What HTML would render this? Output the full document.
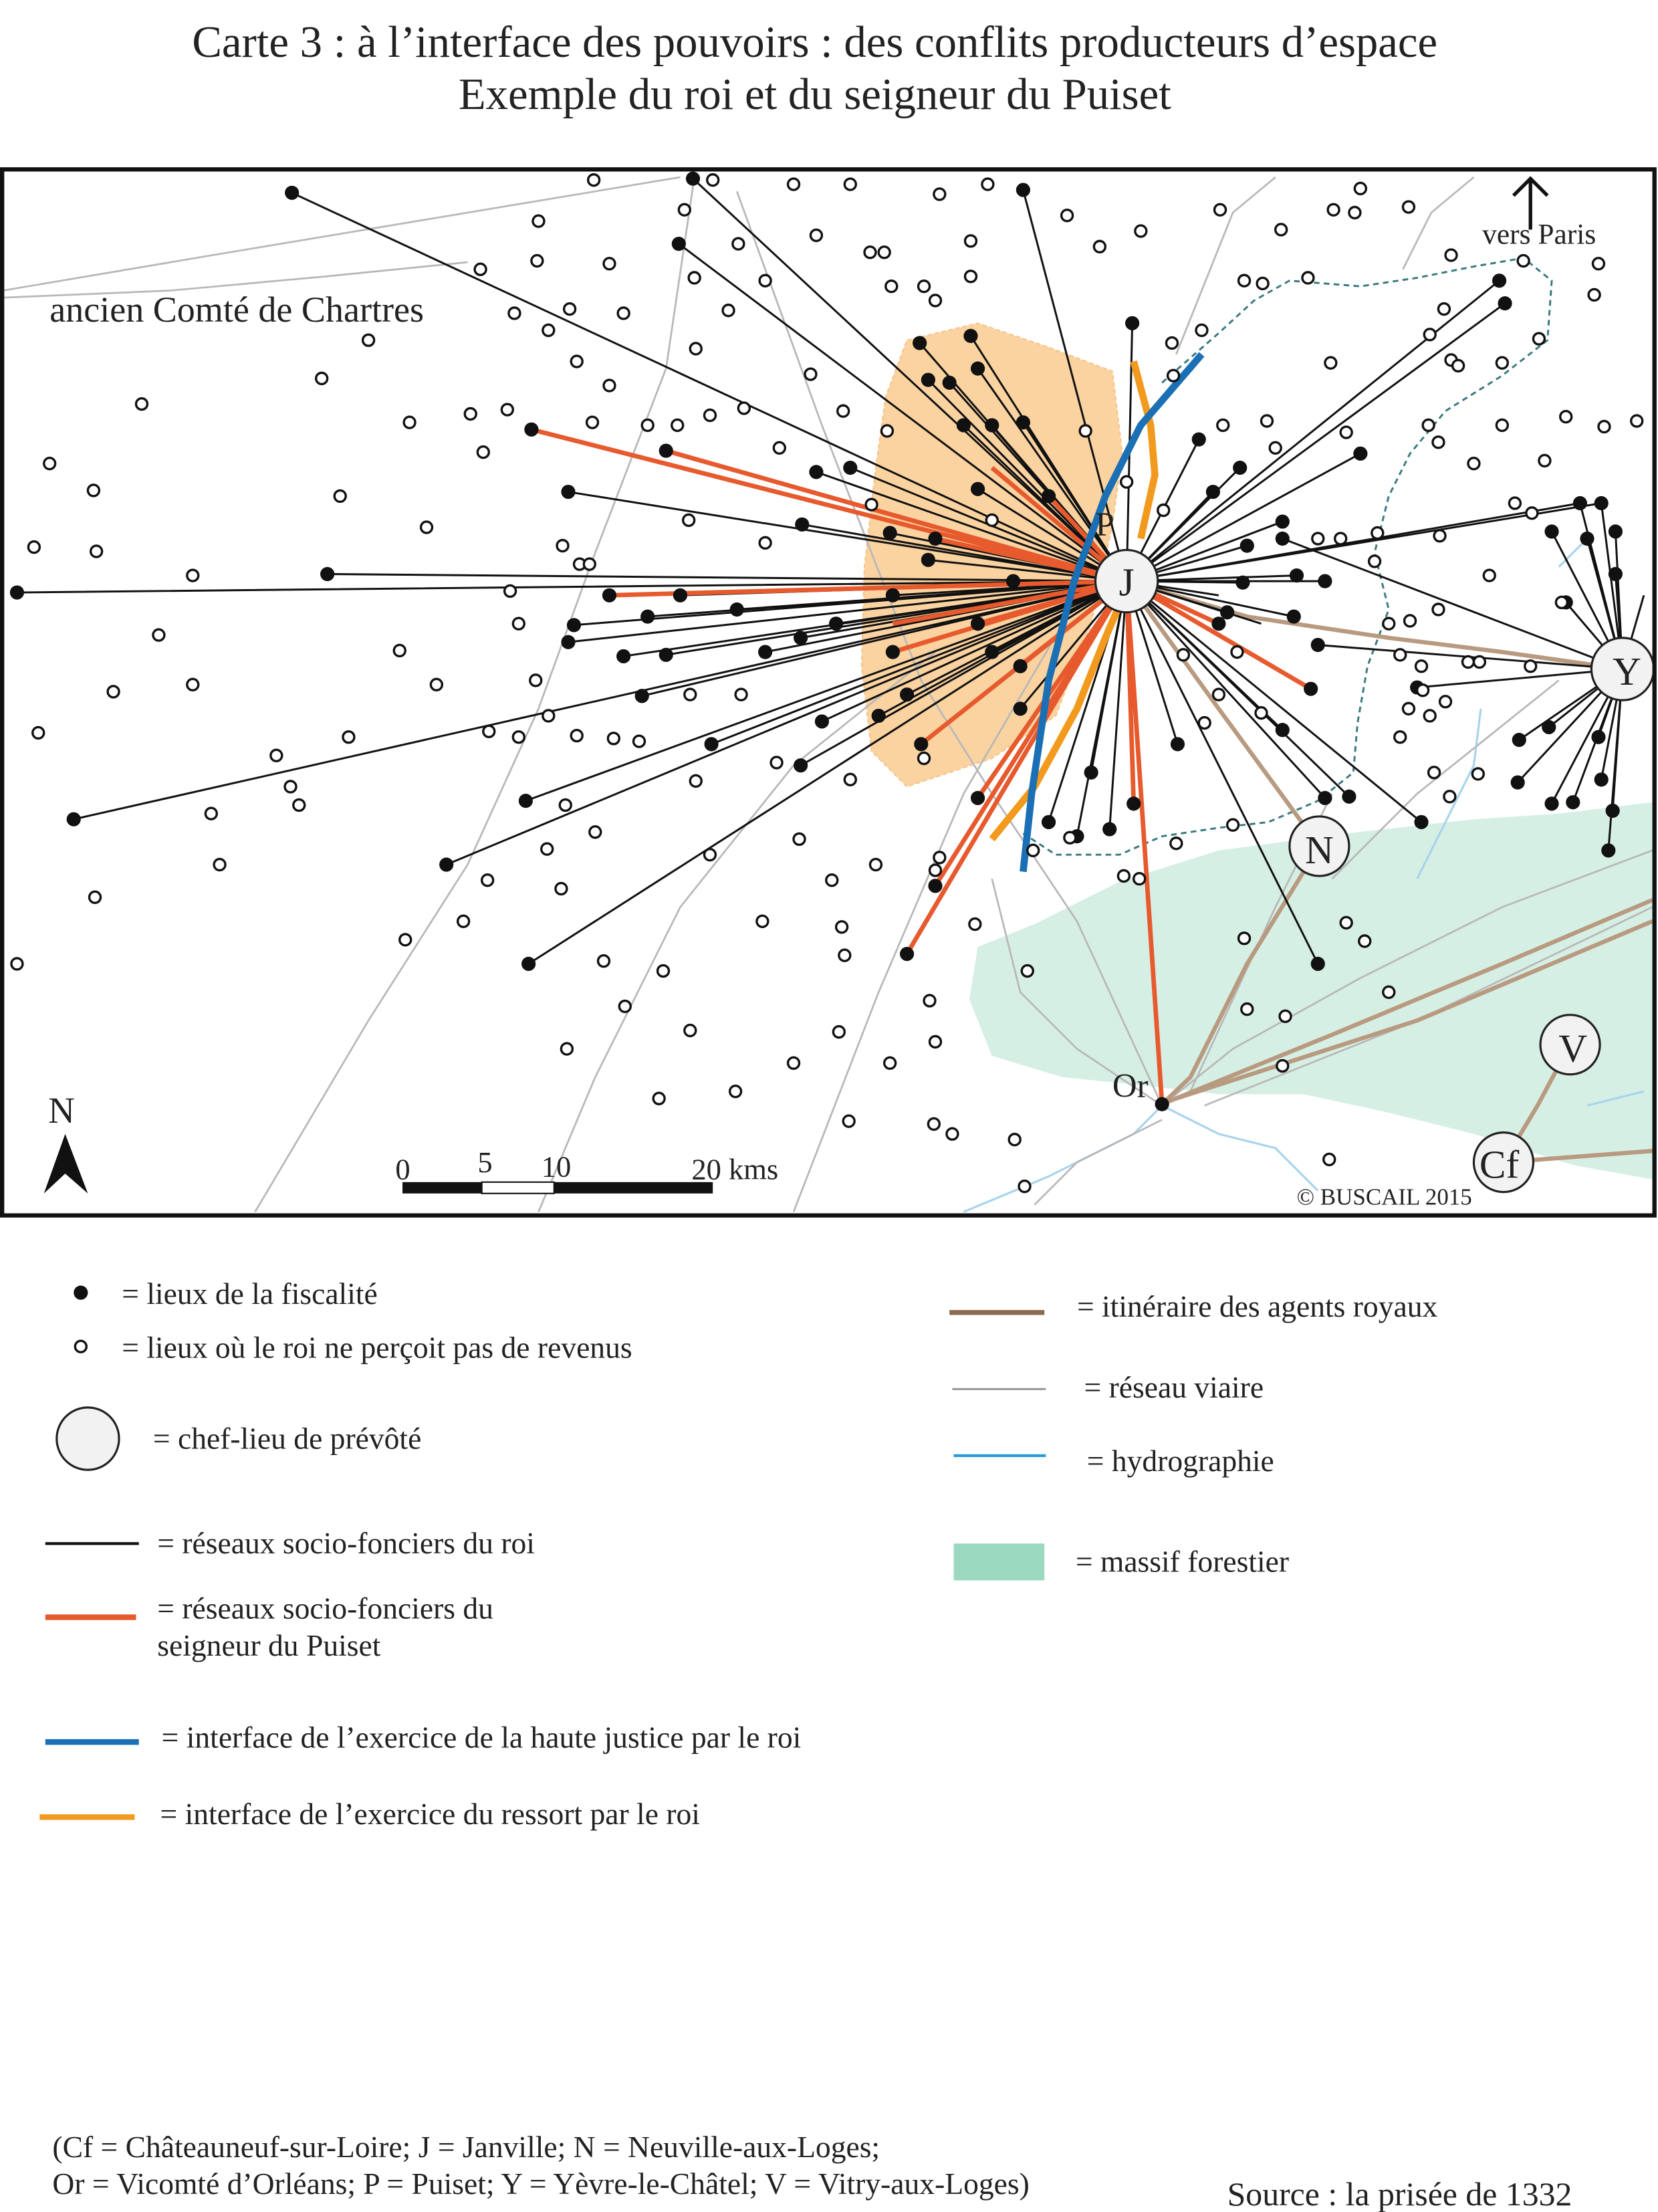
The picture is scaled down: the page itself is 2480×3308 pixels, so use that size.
<!DOCTYPE html>
<html><head><meta charset="utf-8"><style>
html,body{margin:0;padding:0;background:#fff}
svg{display:block}
text{font-family:"Liberation Serif",serif;fill:#222}
</style></head><body>
<svg width="2480" height="3308" viewBox="0 0 1170 1560.6" xmlns="http://www.w3.org/2000/svg">
<rect width="1170" height="1561" fill="#fff"/>
<text x="575" y="40" font-size="31.5" text-anchor="middle">Carte 3 : à l’interface des pouvoirs : des conflits producteurs d’espace</text>
<text x="575" y="77" font-size="31.5" text-anchor="middle">Exemple du roi et du seigneur du Puiset</text>

<defs><clipPath id="mc"><rect x="2" y="120" width="1164" height="736"/></clipPath></defs>
<g clip-path="url(#mc)">
<path d="M690,668 L730,652 L790,622 L860,600 L950,588 L1040,578 L1100,574 L1166,566 L1166,832 L1110,822 L1040,800 L980,785 L920,772 L860,772 L800,765 L750,760 L700,745 L684,705 Z" fill="#d6efe4"/>
<path d="M680,855 L740,830 L800,800 L820,780 M820,780 L860,800 L900,810 L930,840 M1000,620 L1020,580 L1040,540 L1045,500 M1100,400 L1120,380 M1120,780 L1160,770" stroke="#a8d4ec" stroke-width="1.5" fill="none"/>
<path d="M640,240 L690,228 L740,245 L785,262 L792,320 L785,370 L770,440 L745,505 L700,535 L640,555 L615,530 L608,470 L610,400 L618,330 L625,280 Z" fill="#fbd3a0" stroke="#f6c48a" stroke-width="1" stroke-dasharray="3,2"/>
<g stroke="#b8b8b8" stroke-width="1.3" fill="none">
<path d="M2,205 L150,180 L330,150 L480,125"/>
<path d="M180,855 L260,720 L330,610 L380,500 L420,390 L470,260 L490,125"/>
<path d="M520,135 L580,300 L650,480 L700,560 L760,650 L820,780"/>
<path d="M560,855 L620,700 L680,560 L750,440"/>
<path d="M2,210 L120,205 L230,195 L330,185"/>
<path d="M380,855 L420,760 L480,640 L560,540 L660,460"/>
<path d="M820,780 L870,740 L960,690 L1060,640 L1166,600"/>
<path d="M820,780 L760,740 L720,700 L700,620"/>
<path d="M840,770 L900,640 L940,560"/>
<path d="M850,780 L1000,720 L1166,640"/>
<path d="M900,125 L870,150 L830,250"/>
<path d="M990,190 L1010,150 L1040,125"/>
<path d="M940,620 L1000,560 L1050,520 L1100,480"/>
<path d="M730,850 L760,820 L820,790"/>
</g>
<path d="M820,270 L860,235 L885,212 L910,198 L960,202 L1000,196 L1040,188 L1075,182 L1095,198 L1092,240 L1060,265 L1020,290 L995,320 L980,350 L970,390 L980,430 L965,470 L958,510 L955,545 L930,565 L895,580 L860,584 L820,590 L790,603 L745,603 L722,588" stroke="#3a7a80" stroke-width="1.4" stroke-dasharray="4,3" fill="none"/>
<g stroke="#b89a80" stroke-width="3" fill="none">
<path d="M795,410 L880,435 L980,450 L1060,460 L1145,472"/>
<path d="M795,410 L860,500 L931,597"/>
<path d="M931,597 L880,680 L840,760 L820,779"/>
<path d="M820,779 L940,730 L1060,680 L1166,635"/>
<path d="M830,775 L1000,720 L1166,650"/>
<path d="M1108,737 L1085,780 L1061,820"/>
<path d="M1061,820 L1166,812"/>
</g>
<g stroke="#111" stroke-width="1.4">
<path d="M795,410L206,136M795,410L489,126M795,410L479,172M795,410L722,134M795,410L799,228M795,410L12,418M795,410L231,405M795,410L401,347M795,410L52,578M795,410L315,610M795,410L373,680M795,410L371,565M795,410L405,441M795,410L401,453M795,410L440,463M795,410L457,435M795,410L470,462M795,410L453,491M795,410L502,525M795,410L565,450M795,410L566,370M795,410L576,333M795,410L628,376M795,410L600,330M795,410L649,242M795,410L655,268M795,410L670,270M795,410L685,237M795,410L690,260M795,410L700,300M795,410L680,300M795,410L690,345M795,410L722,298M795,410L655,395M795,410L630,420M795,410L620,505M795,410L640,490M795,410L740,580M795,410L760,590M795,410L770,545M795,410L783,585M795,410L831,525M795,410L846,310M795,410L856,347M795,410L875,330M795,410L877,411M795,410L880,385M795,410L905,368M795,410L915,406M795,410L935,410M795,410L913,435M795,410L905,515M795,410L930,680M795,410L952,562M795,410L935,563M795,410L1003,580M795,410L1058,198M795,410L1062,214M795,410L960,320M795,410L1115,355M795,410L1130,355M795,410L580,509M795,410L565,540M795,410L715,410M795,410L480,420M795,410L520,430M795,410L590,440M795,410L540,460M795,410L700,460M795,410L720,500M795,410L860,420M795,410L866,432M795,410L890,440"/>
<path d="M1145,472L1115,355M1145,472L1130,355M1145,472L1095,375M1145,472L1120,380M1145,472L1140,375M1145,472L1140,405M1145,472L1105,425M1145,472L1072,522M1145,472L1093,513M1145,472L1071,552M1145,472L1095,567M1145,472L1110,566M1145,472L1130,550M1145,472L1138,572M1145,472L1135,600M1145,472L1128,520M1145,472L905,380M1145,472L1000,485M1145,472L1160,420M1145,472L930,455"/>
</g>
<g stroke="#e65a2e" stroke-width="3.2">
<path d="M795,410L375,303M795,410L640,673M795,410L660,625M795,410L690,563M795,410L800,567M795,410L820,779M795,410L925,486M795,410L470,318M795,410L650,525M795,410L630,440M795,410L660,380M795,410L700,330M795,410L740,350M795,410L430,420M795,410L860,440M795,410L720,470M795,410L630,460M795,410L690,440"/>
</g>
<path d="M700,592 L730,555 L760,500 L780,450 L793,420" stroke="#f29a1d" stroke-width="5" fill="none"/>
<path d="M800,255 L812,300 L815,335 L805,380" stroke="#f29a1d" stroke-width="5" fill="none"/>
<path d="M722,615 L728,560 L740,480 L758,410 L780,350 L805,300 L848,250" stroke="#1a6fb5" stroke-width="5" fill="none"/>
<g fill="#111">
<circle cx="206" cy="136" r="5"/><circle cx="489" cy="126" r="5"/><circle cx="479" cy="172" r="5"/><circle cx="722" cy="134" r="5"/><circle cx="799" cy="228" r="5"/><circle cx="12" cy="418" r="5"/><circle cx="231" cy="405" r="5"/><circle cx="401" cy="347" r="5"/><circle cx="375" cy="303" r="5"/><circle cx="52" cy="578" r="5"/><circle cx="315" cy="610" r="5"/><circle cx="373" cy="680" r="5"/><circle cx="371" cy="565" r="5"/><circle cx="405" cy="441" r="5"/><circle cx="401" cy="453" r="5"/><circle cx="440" cy="463" r="5"/><circle cx="457" cy="435" r="5"/><circle cx="470" cy="462" r="5"/><circle cx="453" cy="491" r="5"/><circle cx="502" cy="525" r="5"/><circle cx="565" cy="450" r="5"/><circle cx="566" cy="370" r="5"/><circle cx="576" cy="333" r="5"/><circle cx="628" cy="376" r="5"/><circle cx="600" cy="330" r="5"/><circle cx="649" cy="242" r="5"/><circle cx="655" cy="268" r="5"/><circle cx="670" cy="270" r="5"/><circle cx="685" cy="237" r="5"/><circle cx="690" cy="260" r="5"/><circle cx="700" cy="300" r="5"/><circle cx="680" cy="300" r="5"/><circle cx="690" cy="345" r="5"/><circle cx="722" cy="298" r="5"/><circle cx="655" cy="395" r="5"/><circle cx="630" cy="420" r="5"/><circle cx="620" cy="505" r="5"/><circle cx="640" cy="490" r="5"/><circle cx="650" cy="525" r="5"/><circle cx="640" cy="673" r="5"/><circle cx="660" cy="625" r="5"/><circle cx="690" cy="563" r="5"/><circle cx="740" cy="580" r="5"/><circle cx="760" cy="590" r="5"/><circle cx="770" cy="545" r="5"/><circle cx="783" cy="585" r="5"/><circle cx="800" cy="567" r="5"/><circle cx="820" cy="779" r="5"/><circle cx="831" cy="525" r="5"/><circle cx="846" cy="310" r="5"/><circle cx="856" cy="347" r="5"/><circle cx="875" cy="330" r="5"/><circle cx="877" cy="411" r="5"/><circle cx="880" cy="385" r="5"/><circle cx="905" cy="368" r="5"/><circle cx="915" cy="406" r="5"/><circle cx="935" cy="410" r="5"/><circle cx="913" cy="435" r="5"/><circle cx="905" cy="515" r="5"/><circle cx="925" cy="486" r="5"/><circle cx="930" cy="680" r="5"/><circle cx="952" cy="562" r="5"/><circle cx="935" cy="563" r="5"/><circle cx="1003" cy="580" r="5"/><circle cx="1058" cy="198" r="5"/><circle cx="1062" cy="214" r="5"/><circle cx="960" cy="320" r="5"/><circle cx="1115" cy="355" r="5"/><circle cx="1130" cy="355" r="5"/><circle cx="1095" cy="375" r="5"/><circle cx="1120" cy="380" r="5"/><circle cx="1140" cy="375" r="5"/><circle cx="1140" cy="405" r="5"/><circle cx="1105" cy="425" r="5"/><circle cx="1072" cy="522" r="5"/><circle cx="1093" cy="513" r="5"/><circle cx="1071" cy="552" r="5"/><circle cx="1095" cy="567" r="5"/><circle cx="1110" cy="566" r="5"/><circle cx="1130" cy="550" r="5"/><circle cx="1138" cy="572" r="5"/><circle cx="1135" cy="600" r="5"/><circle cx="1128" cy="520" r="5"/><circle cx="580" cy="509" r="5"/><circle cx="565" cy="540" r="5"/><circle cx="715" cy="410" r="5"/><circle cx="470" cy="318" r="5"/><circle cx="480" cy="420" r="5"/><circle cx="520" cy="430" r="5"/><circle cx="590" cy="440" r="5"/><circle cx="540" cy="460" r="5"/><circle cx="700" cy="460" r="5"/><circle cx="720" cy="500" r="5"/><circle cx="860" cy="440" r="5"/><circle cx="866" cy="432" r="5"/><circle cx="905" cy="380" r="5"/><circle cx="1000" cy="485" r="5"/><circle cx="930" cy="455" r="5"/><circle cx="660" cy="380" r="5"/><circle cx="740" cy="350" r="5"/><circle cx="430" cy="420" r="5"/><circle cx="720" cy="470" r="5"/><circle cx="630" cy="460" r="5"/><circle cx="690" cy="440" r="5"/>
</g>
<g fill="#fff" stroke="#111" stroke-width="1.6">
<circle cx="419" cy="127" r="4"/><circle cx="503" cy="127" r="4"/><circle cx="560" cy="130" r="4"/><circle cx="600" cy="130" r="4"/><circle cx="663" cy="137" r="4"/><circle cx="697" cy="130" r="4"/><circle cx="483" cy="148" r="4"/><circle cx="380" cy="156" r="4"/><circle cx="379" cy="184" r="4"/><circle cx="339" cy="190" r="4"/><circle cx="430" cy="186" r="4"/><circle cx="402" cy="218" r="4"/><circle cx="363" cy="221" r="4"/><circle cx="387" cy="233" r="4"/><circle cx="440" cy="221" r="4"/><circle cx="490" cy="196" r="4"/><circle cx="514" cy="219" r="4"/><circle cx="521" cy="172" r="4"/><circle cx="540" cy="198" r="4"/><circle cx="576" cy="166" r="4"/><circle cx="614" cy="178" r="4"/><circle cx="624" cy="178" r="4"/><circle cx="629" cy="202" r="4"/><circle cx="652" cy="202" r="4"/><circle cx="660" cy="212" r="4"/><circle cx="685" cy="195" r="4"/><circle cx="685" cy="170" r="4"/><circle cx="753" cy="152" r="4"/><circle cx="776" cy="174" r="4"/><circle cx="805" cy="163" r="4"/><circle cx="861" cy="148" r="4"/><circle cx="904" cy="162" r="4"/><circle cx="960" cy="133" r="4"/><circle cx="941" cy="148" r="4"/><circle cx="956" cy="150" r="4"/><circle cx="994" cy="146" r="4"/><circle cx="878" cy="198" r="4"/><circle cx="923" cy="196" r="4"/><circle cx="891" cy="200" r="4"/><circle cx="827" cy="242" r="4"/><circle cx="848" cy="233" r="4"/><circle cx="828" cy="265" r="4"/><circle cx="939" cy="256" r="4"/><circle cx="1009" cy="236" r="4"/><circle cx="1024" cy="254" r="4"/><circle cx="1029" cy="258" r="4"/><circle cx="1060" cy="256" r="4"/><circle cx="1086" cy="239" r="4"/><circle cx="1125" cy="208" r="4"/><circle cx="1128" cy="186" r="4"/><circle cx="1075" cy="184" r="4"/><circle cx="1024" cy="180" r="4"/><circle cx="1019" cy="218" r="4"/><circle cx="491" cy="246" r="4"/><circle cx="430" cy="272" r="4"/><circle cx="407" cy="255" r="4"/><circle cx="572" cy="264" r="4"/><circle cx="525" cy="288" r="4"/><circle cx="501" cy="293" r="4"/><circle cx="478" cy="300" r="4"/><circle cx="457" cy="300" r="4"/><circle cx="418" cy="298" r="4"/><circle cx="358" cy="289" r="4"/><circle cx="332" cy="292" r="4"/><circle cx="289" cy="298" r="4"/><circle cx="341" cy="319" r="4"/><circle cx="227" cy="267" r="4"/><circle cx="260" cy="240" r="4"/><circle cx="100" cy="285" r="4"/><circle cx="35" cy="327" r="4"/><circle cx="66" cy="346" r="4"/><circle cx="24" cy="386" r="4"/><circle cx="68" cy="389" r="4"/><circle cx="136" cy="406" r="4"/><circle cx="301" cy="372" r="4"/><circle cx="240" cy="350" r="4"/><circle cx="112" cy="448" r="4"/><circle cx="80" cy="488" r="4"/><circle cx="136" cy="483" r="4"/><circle cx="27" cy="517" r="4"/><circle cx="282" cy="459" r="4"/><circle cx="308" cy="483" r="4"/><circle cx="360" cy="417" r="4"/><circle cx="366" cy="440" r="4"/><circle cx="397" cy="385" r="4"/><circle cx="409" cy="398" r="4"/><circle cx="416" cy="398" r="4"/><circle cx="486" cy="367" r="4"/><circle cx="540" cy="383" r="4"/><circle cx="550" cy="316" r="4"/><circle cx="595" cy="290" r="4"/><circle cx="626" cy="304" r="4"/><circle cx="615" cy="356" r="4"/><circle cx="700" cy="367" r="4"/><circle cx="766" cy="304" r="4"/><circle cx="795" cy="340" r="4"/><circle cx="821" cy="360" r="4"/><circle cx="863" cy="300" r="4"/><circle cx="894" cy="297" r="4"/><circle cx="900" cy="316" r="4"/><circle cx="950" cy="305" r="4"/><circle cx="1008" cy="300" r="4"/><circle cx="1015" cy="312" r="4"/><circle cx="1060" cy="300" r="4"/><circle cx="1090" cy="325" r="4"/><circle cx="1040" cy="327" r="4"/><circle cx="1105" cy="294" r="4"/><circle cx="1132" cy="301" r="4"/><circle cx="1155" cy="297" r="4"/><circle cx="930" cy="380" r="4"/><circle cx="946" cy="380" r="4"/><circle cx="972" cy="376" r="4"/><circle cx="1016" cy="378" r="4"/><circle cx="1069" cy="355" r="4"/><circle cx="1051" cy="406" r="4"/><circle cx="1081" cy="362" r="4"/><circle cx="970" cy="396" r="4"/><circle cx="980" cy="440" r="4"/><circle cx="995" cy="438" r="4"/><circle cx="988" cy="462" r="4"/><circle cx="1003" cy="470" r="4"/><circle cx="1015" cy="430" r="4"/><circle cx="1004" cy="487" r="4"/><circle cx="1044" cy="467" r="4"/><circle cx="1036" cy="467" r="4"/><circle cx="994" cy="500" r="4"/><circle cx="988" cy="520" r="4"/><circle cx="1020" cy="495" r="4"/><circle cx="1012" cy="545" r="4"/><circle cx="1043" cy="546" r="4"/><circle cx="1023" cy="562" r="4"/><circle cx="1102" cy="425" r="4"/><circle cx="1080" cy="470" r="4"/><circle cx="1009" cy="505" r="4"/><circle cx="860" cy="490" r="4"/><circle cx="890" cy="503" r="4"/><circle cx="850" cy="510" r="4"/><circle cx="835" cy="462" r="4"/><circle cx="873" cy="460" r="4"/><circle cx="870" cy="582" r="4"/><circle cx="830" cy="595" r="4"/><circle cx="793" cy="618" r="4"/><circle cx="804" cy="620" r="4"/><circle cx="755" cy="591" r="4"/><circle cx="729" cy="600" r="4"/><circle cx="725" cy="685" r="4"/><circle cx="688" cy="652" r="4"/><circle cx="663" cy="605" r="4"/><circle cx="660" cy="614" r="4"/><circle cx="618" cy="610" r="4"/><circle cx="587" cy="621" r="4"/><circle cx="594" cy="654" r="4"/><circle cx="596" cy="674" r="4"/><circle cx="564" cy="592" r="4"/><circle cx="538" cy="650" r="4"/><circle cx="548" cy="538" r="4"/><circle cx="491" cy="551" r="4"/><circle cx="523" cy="490" r="4"/><circle cx="487" cy="490" r="4"/><circle cx="451" cy="523" r="4"/><circle cx="433" cy="521" r="4"/><circle cx="407" cy="519" r="4"/><circle cx="387" cy="505" r="4"/><circle cx="366" cy="520" r="4"/><circle cx="345" cy="516" r="4"/><circle cx="378" cy="480" r="4"/><circle cx="399" cy="568" r="4"/><circle cx="386" cy="599" r="4"/><circle cx="420" cy="587" r="4"/><circle cx="501" cy="603" r="4"/><circle cx="344" cy="621" r="4"/><circle cx="327" cy="650" r="4"/><circle cx="286" cy="663" r="4"/><circle cx="396" cy="627" r="4"/><circle cx="426" cy="678" r="4"/><circle cx="468" cy="685" r="4"/><circle cx="441" cy="710" r="4"/><circle cx="487" cy="727" r="4"/><circle cx="519" cy="770" r="4"/><circle cx="465" cy="775" r="4"/><circle cx="400" cy="740" r="4"/><circle cx="560" cy="750" r="4"/><circle cx="592" cy="728" r="4"/><circle cx="628" cy="750" r="4"/><circle cx="656" cy="706" r="4"/><circle cx="660" cy="735" r="4"/><circle cx="659" cy="793" r="4"/><circle cx="672" cy="800" r="4"/><circle cx="599" cy="791" r="4"/><circle cx="716" cy="804" r="4"/><circle cx="723" cy="837" r="4"/><circle cx="938" cy="818" r="4"/><circle cx="878" cy="662" r="4"/><circle cx="963" cy="664" r="4"/><circle cx="950" cy="651" r="4"/><circle cx="880" cy="712" r="4"/><circle cx="907" cy="717" r="4"/><circle cx="905" cy="752" r="4"/><circle cx="980" cy="700" r="4"/><circle cx="195" cy="533" r="4"/><circle cx="205" cy="555" r="4"/><circle cx="211" cy="568" r="4"/><circle cx="246" cy="520" r="4"/><circle cx="149" cy="574" r="4"/><circle cx="155" cy="610" r="4"/><circle cx="67" cy="633" r="4"/><circle cx="12" cy="680" r="4"/><circle cx="600" cy="550" r="4"/><circle cx="652" cy="535" r="4"/>
</g>
<g fill="#f2f2f2" stroke="#222" stroke-width="1.5">
<circle cx="795" cy="410" r="22"/><circle cx="1145" cy="472" r="22"/><circle cx="931" cy="597" r="21"/><circle cx="1108" cy="737" r="21"/><circle cx="1061" cy="820" r="21"/>
</g>
<text x="795" y="420" font-size="28" text-anchor="middle">J</text>
<text x="1148" y="483" font-size="28" text-anchor="middle">Y</text>
<text x="931" y="609" font-size="28" text-anchor="middle">N</text>
<text x="1110" y="749" font-size="28" text-anchor="middle">V</text>
<text x="1058" y="831" font-size="28" text-anchor="middle">Cf</text>
<text x="773" y="378" font-size="24">P</text>
<text x="785" y="774" font-size="24">Or</text>
<text x="35" y="227" font-size="25.5">ancien Comté de Chartres</text>
<text x="1046" y="172" font-size="20.5">vers Paris</text>
<path d="M1080,162 L1080,126 M1068,138 L1080,126 L1092,138" stroke="#111" stroke-width="2.5" fill="none"/>
<text x="915" y="850" font-size="16.5">© BUSCAIL 2015</text>
<text x="34" y="792" font-size="26">N</text>
<path d="M31,842 L46,800 L62,842 L46,828 Z" fill="#111"/>
<rect x="284" y="834" width="56" height="8" fill="#111"/>
<rect x="340" y="834" width="51" height="8" fill="#fff" stroke="#111" stroke-width="1"/>
<rect x="391" y="834" width="112" height="8" fill="#111"/>
<text x="279" y="832" font-size="21">0</text>
<text x="337" y="827" font-size="21">5</text>
<text x="382" y="830" font-size="21">10</text>
<text x="488" y="832" font-size="21">20 kms</text>
</g>
<rect x="1.5" y="119.5" width="1166" height="738" fill="none" stroke="#111" stroke-width="3"/>

<g font-size="21.5">
<circle cx="57" cy="912" r="5" fill="#111"/>
<text x="86" y="920">= lieux de la fiscalité</text>
<circle cx="57" cy="950" r="4" fill="#fff" stroke="#111" stroke-width="1.6"/>
<text x="86" y="958">= lieux où le roi ne perçoit pas de revenus</text>
<circle cx="62" cy="1015" r="22" fill="#f2f2f2" stroke="#222" stroke-width="1.5"/>
<text x="108" y="1022">= chef-lieu de prévôté</text>
<line x1="32" y1="1089" x2="98" y2="1089" stroke="#111" stroke-width="2"/>
<text x="111" y="1096">= réseaux socio-fonciers du roi</text>
<line x1="32" y1="1141" x2="96" y2="1141" stroke="#e65a2e" stroke-width="4"/>
<text x="111" y="1142">= réseaux socio-fonciers du</text>
<text x="111" y="1168">seigneur du Puiset</text>
<line x1="32" y1="1229" x2="98" y2="1229" stroke="#1a6fb5" stroke-width="4"/>
<text x="114" y="1233">= interface de l’exercice de la haute justice par le roi</text>
<line x1="28" y1="1282" x2="95" y2="1282" stroke="#f29a1d" stroke-width="4"/>
<text x="113" y="1287">= interface de l’exercice du ressort par le roi</text>
<line x1="670" y1="926" x2="737" y2="926" stroke="#8b6a4e" stroke-width="3.5"/>
<text x="760" y="929">= itinéraire des agents royaux</text>
<line x1="672" y1="980" x2="738" y2="980" stroke="#999" stroke-width="1.5"/>
<text x="765" y="986">= réseau viaire</text>
<line x1="673" y1="1027" x2="738" y2="1027" stroke="#2a9ad8" stroke-width="2"/>
<text x="767" y="1038">= hydrographie</text>
<rect x="673" y="1089" width="64" height="26" fill="#9ad9bf"/>
<text x="759" y="1109">= massif forestier</text>
<text x="37" y="1522">(Cf = Châteauneuf-sur-Loire; J = Janville;  N = Neuville-aux-Loges;</text>
<text x="37" y="1548">Or = Vicomté d’Orléans;  P = Puiset; Y = Yèvre-le-Châtel; V = Vitry-aux-Loges)</text>
<text x="866" y="1556" font-size="23.5">Source : la prisée de 1332</text>
</g>
</svg>
</body></html>
